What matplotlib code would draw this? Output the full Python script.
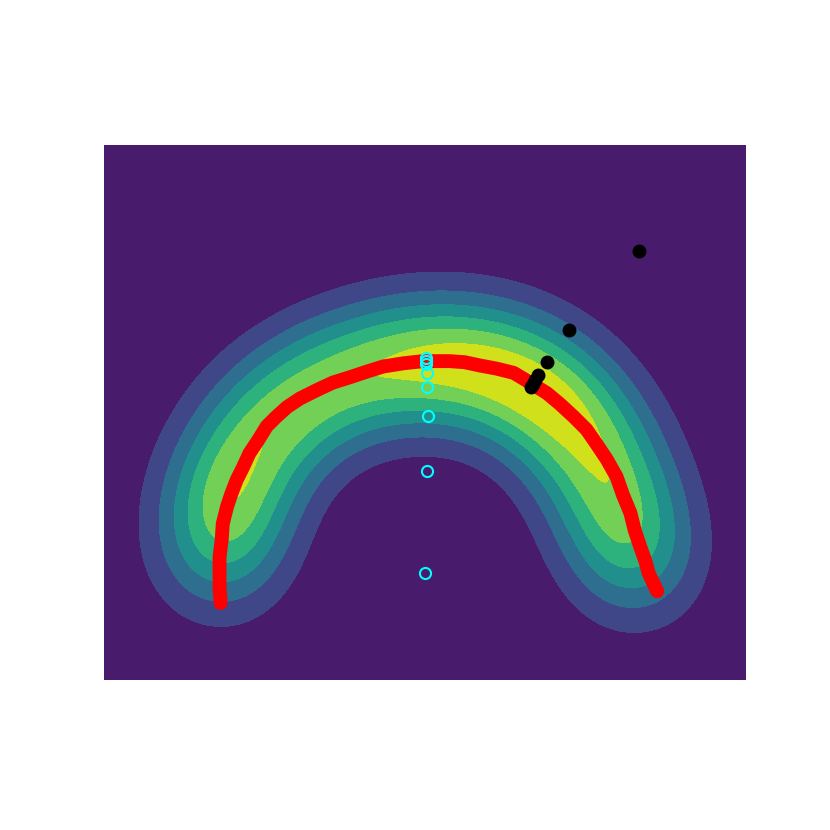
import numpy as np
import matplotlib
matplotlib.use('Agg')
import matplotlib.pyplot as plt

# density ridge: centres and weights of the gaussian bumps
ridge_x = [-1.92, -1.91, -1.88, -1.82, -1.72, -1.57, -1.38, -1.14, -0.86, -0.52, -0.16, 0.20, 0.55, 0.88, 1.15, 1.38, 1.55, 1.68, 1.79, 1.88, 1.95, 2.00]
ridge_y = [-1.50, -1.25, -0.98, -0.72, -0.46, -0.22, -0.01, 0.16, 0.31, 0.42, 0.48, 0.49, 0.46, 0.35, 0.17, -0.04, -0.27, -0.53, -0.82, -1.10, -1.35, -1.55]
ridge_w = [0.55, 0.83, 0.90, 0.88, 0.84, 0.82, 0.84, 0.90, 0.96, 1.05, 1.18, 1.21, 1.17, 1.16, 1.18, 1.01, 0.87, 0.90, 0.90, 0.86, 0.74, 0.50]
bw = 0.44

# red curve
path_x = [-1.91, -1.92, -1.92, -1.92, -1.90, -1.89, -1.85, -1.81, -1.76, -1.70, -1.64, -1.56, -1.48, -1.39,
          -1.29, -1.17, -1.01, -0.86, -0.70, -0.55, -0.39, -0.20, -0.02, 0.23, 0.37, 0.51, 0.67, 0.83,
          0.98, 1.14, 1.26, 1.39, 1.51, 1.60, 1.70, 1.79, 1.85, 1.92, 1.96, 2.01, 2.06, 2.09, 2.17]
path_y = [-1.78, -1.63, -1.50, -1.35, -1.19, -1.04, -0.88, -0.76, -0.63, -0.51, -0.38, -0.26, -0.13, -0.04,
          0.05, 0.13, 0.21, 0.28, 0.33, 0.38, 0.43, 0.46, 0.48, 0.48, 0.47, 0.44, 0.41, 0.37,
          0.28, 0.18, 0.08, -0.04, -0.16, -0.29, -0.44, -0.60, -0.77, -0.94, -1.10, -1.25, -1.39, -1.50, -1.67]

# black steps
black_x = [2.00, 1.35, 1.14, 1.06, 1.03, 1.01, 0.99]
black_y = [1.51, 0.77, 0.47, 0.35, 0.30, 0.27, 0.24]

# cyan steps
cyan_x = [0.00, 0.02, 0.03, 0.02, 0.02, 0.01, 0.01, 0.01]
cyan_y = [-1.50, -0.55, -0.03, 0.24, 0.37, 0.45, 0.48, 0.51]

xs = np.linspace(-3, 3, 400)
ys = np.linspace(-2.5, 2.5, 340)
X, Y = np.meshgrid(xs, ys)
Z = np.zeros_like(X)
for cx, cy, w in zip(ridge_x, ridge_y, ridge_w):
    Z += w*np.exp(-((X-cx)**2+(Y-cy)**2)/(2*bw**2))

fig = plt.figure(figsize=(8.3, 8.3), dpi=100)
ax = fig.add_axes([104/830, 150/830, 642/830, 535/830])
levels = np.linspace(0, Z.max()*1.01, 8)
ax.contourf(X, Y, Z, levels=levels, cmap='viridis')
ax.plot(path_x, path_y, color='red', lw=10, solid_capstyle='round', solid_joinstyle='round')
ax.plot(black_x, black_y, 'o', color='black', ms=9)
ax.plot(cyan_x, cyan_y, 'o', mfc='none', mec='cyan', ms=8, mew=1.5)
ax.set_xlim(-3, 3)
ax.set_ylim(-2.5, 2.5)
ax.axis('off')
plt.savefig('out.png')
